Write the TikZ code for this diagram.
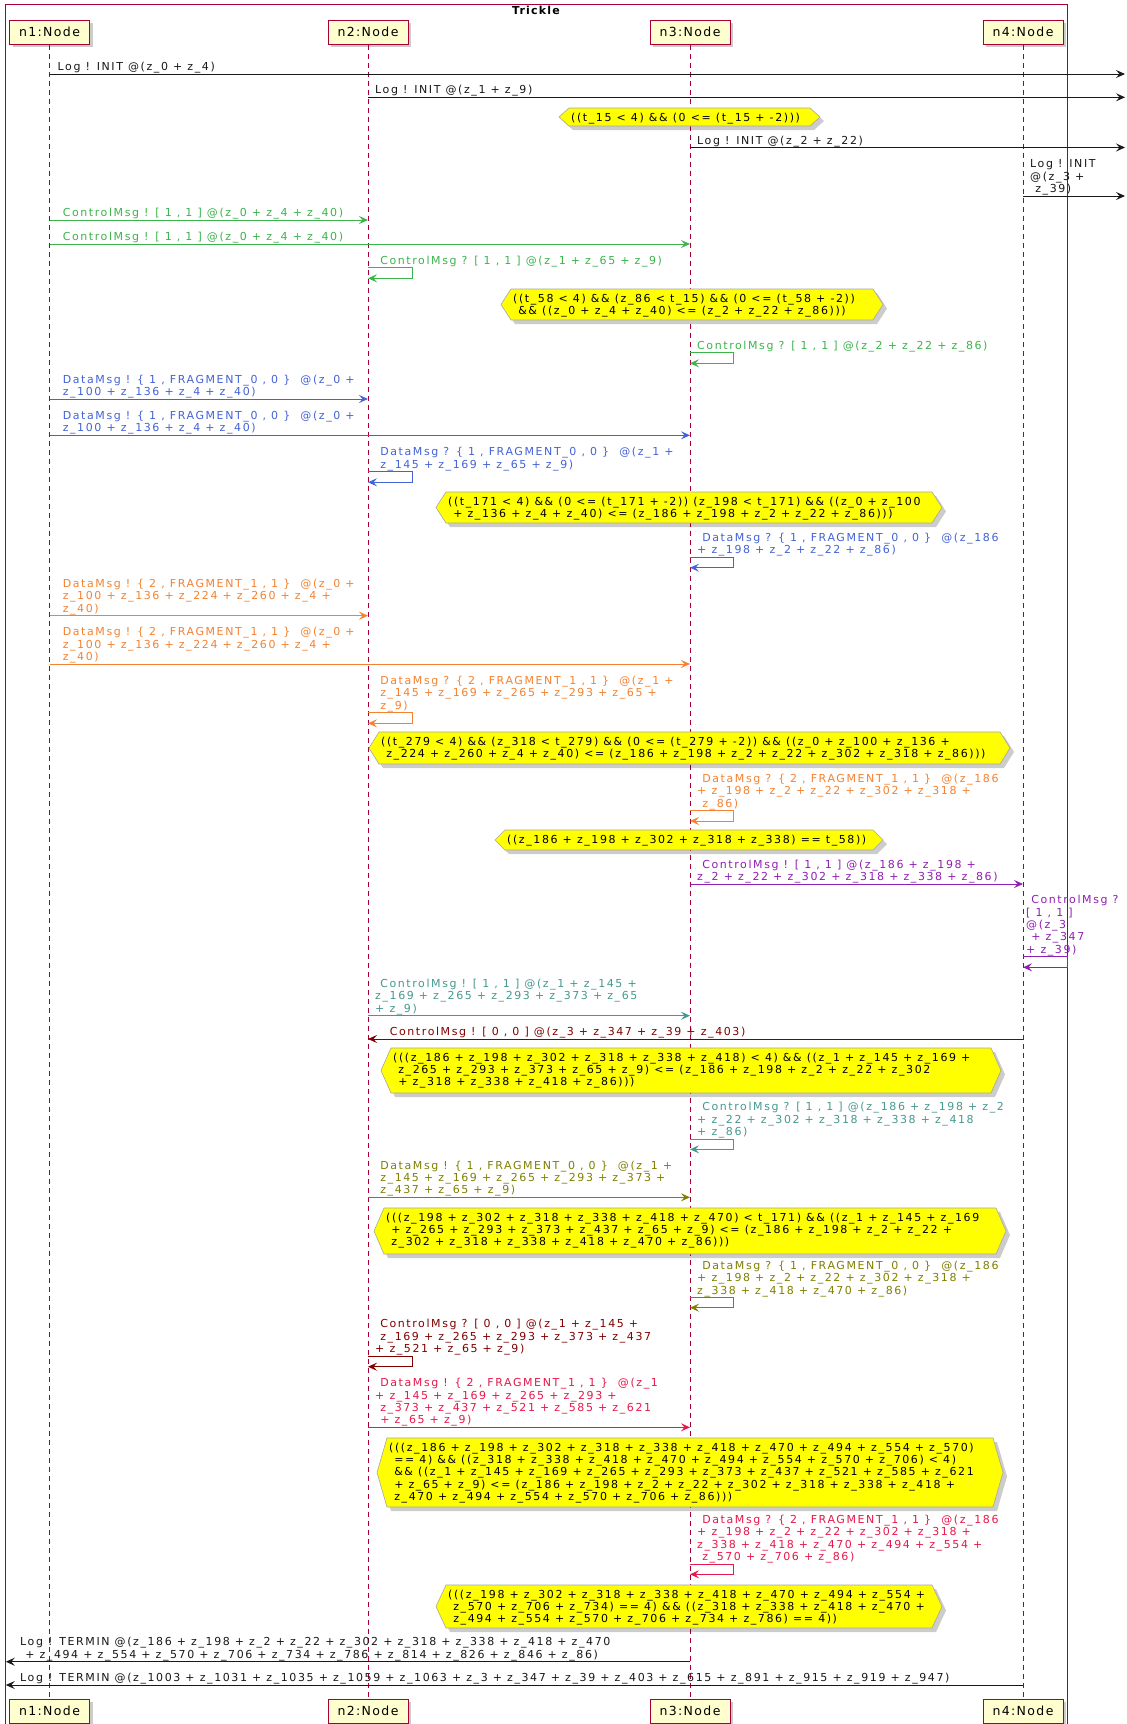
\documentclass[tikz,border=0pt]{standalone}
\usepackage{fontspec}
\newfontfamily\lfont{DejaVu Sans}[LetterSpace=14.5]
\newfontfamily\pfont{DejaVu Sans}[LetterSpace=11]
\usetikzlibrary{arrows.meta}
\definecolor{pcol}{HTML}{A80036}
\definecolor{pfill}{HTML}{FEFECE}
\definecolor{cgreen}{HTML}{3CB44B}
\definecolor{cblue}{HTML}{4363D8}
\definecolor{corange}{HTML}{F58231}
\definecolor{cpurple}{HTML}{911EB4}
\definecolor{cteal}{HTML}{469990}
\definecolor{cmaroon}{HTML}{800000}
\definecolor{colive}{HTML}{808000}
\definecolor{cred}{HTML}{E6194B}
\definecolor{clog}{HTML}{181818}
\definecolor{nyel}{HTML}{FFFF00}
\newcommand\msgfont{\lfont\fontsize{11}{12.4}\selectfont}
\newcommand\mlb[1]{\begin{tabular}[b]{@{}l@{}}#1\end{tabular}}
\newcommand\mlt[1]{\begin{tabular}[t]{@{}l@{}}#1\end{tabular}}
\tikzset{
 lbl/.style={inner sep=0pt, anchor=base west, font=\msgfont},
 arr/.style={line width=1pt, -{Stealth[length=9pt,width=8pt,inset=3.5pt]}},
 life/.style={draw=pcol, dash pattern=on 5pt off 4pt, line width=0.8pt},
 part/.style={draw=pcol, fill=pfill, line width=1pt, minimum width=80pt, minimum height=24pt, inner sep=0pt,
   font=\pfont\fontsize{12.5}{15}\selectfont,
   preaction={fill=black,opacity=0.2,transform canvas={shift={(3pt,-3pt)}}}},
 notebd/.style={draw=gray!70, line width=0.6pt, fill=nyel},
 shad/.style={fill=black, opacity=0.2},
}
\newcommand\hexnote[6]{%
 \fill[shad] ({#2+4},{(#4+#5)/2+4}) -- ({#2+14},{#4+4}) -- ({#3-6},{#4+4}) -- ({#3+4},{(#4+#5)/2+4}) -- ({#3-6},{#5+4}) -- ({#2+14},{#5+4}) -- cycle;
 \draw[notebd] (#2,{(#4+#5)/2}) -- ({#2+10},#4) -- ({#3-10},#4) -- (#3,{(#4+#5)/2}) -- ({#3-10},#5) -- ({#2+10},#5) -- cycle;
 \node[lbl,text=black] (#1) at ({#2+12},{#4+13}) {\mlt{#6}};
}
\newcommand\selfmsg[6]{%
 \coordinate (#1a) at (#2,#3);
 \coordinate (#1b) at (#2,#4);
 \draw[arr,color=#5] (#1a) -- ++(#6,0) |- (#1b);
}
\newcommand\mmsg[5]{%
 \coordinate (#1a) at (#2,#4);
 \coordinate (#1b) at (#3,#4);
 \draw[arr,color=#5] (#1a) -- (#1b);
}
\newcommand\msglabel[5]{%
 \node[lbl,text=#4] (#1) at (#2,#3) {\mlb{#5}};
}
\begin{document}
\catcode`\_=12
\begin{tikzpicture}[x=1pt,y=-1pt]
\useasboundingbox (0,0) rectangle (1127,1724);
\fill[white] (0,0) rectangle (1127,1724);
% frame
\draw[pcol,line width=1pt] (5,1730) -- (5,4.3) -- (1067.6,4.3) -- (1067.6,1730);
\node[font=\pfont\bfseries\fontsize{11}{13}\selectfont, inner sep=0pt, anchor=base] (title) at (536,14.5) {Trickle};
% participants
\node[part] (p1t) at (49.5,32) {n1:Node};
\node[part] (p2t) at (368,32) {n2:Node};
\node[part] (p3t) at (690,32) {n3:Node};
\node[part] (p4t) at (1023,32) {n4:Node};
\node[part] (p1b) at (49.5,1711) {n1:Node};
\node[part] (p2b) at (368,1711) {n2:Node};
\node[part] (p3b) at (690,1711) {n3:Node};
\node[part] (p4b) at (1023,1711) {n4:Node};
\draw[life] (p1t.south) -- (p1b.north);
\draw[life] (p2t.south) -- (p2b.north);
\draw[life] (p3t.south) -- (p3b.north);
\draw[life] (p4t.south) -- (p4b.north);

% messages
\mmsg{m1}{49.5}{1125}{74}{clog}
\msglabel{l1}{57.5}{70.5}{clog}{Log ! INIT @(z_0 + z_4)}
\mmsg{m2}{368}{1125}{97.3}{clog}
\msglabel{l2}{375}{93.8}{clog}{Log ! INIT @(z_1 + z_9)}
\hexnote{h1}{559}{820}{108}{126}{((t_15 < 4) \&\& (0 <= (t_15 + -2)))}
\mmsg{m3}{690}{1125}{147.5}{clog}
\msglabel{l3}{697}{144}{clog}{Log ! INIT @(z_2 + z_22)}
\mmsg{m4}{1023}{1125}{196}{clog}
\msglabel{l4}{1030}{192.5}{clog}{Log ! INIT\\@(z_3 +\\\ z_39)}
\mmsg{m5}{49.5}{368}{220}{cgreen}
\msglabel{l5}{57.5}{216.5}{cgreen}{\ ControlMsg ! [ 1 , 1 ] @(z_0 + z_4 + z_40)}
\mmsg{m6}{49.5}{690}{244}{cgreen}
\msglabel{l6}{57.5}{240.5}{cgreen}{\ ControlMsg ! [ 1 , 1 ] @(z_0 + z_4 + z_40)}
\selfmsg{s1}{368}{267.7}{278.3}{cgreen}{44}
\msglabel{ls1}{375}{264.2}{cgreen}{\ ControlMsg ? [ 1 , 1 ] @(z_1 + z_65 + z_9)}
\hexnote{h2}{501}{883}{289}{320}{((t_58 < 4) \&\& (z_86 < t_15) \&\& (0 <= (t_58 + -2))\\\ \&\& ((z_0 + z_4 + z_40) <= (z_2 + z_22 + z_86)))}
\selfmsg{s2}{690}{352.7}{363.3}{cgreen}{43}
\msglabel{ls2}{697}{349.2}{cgreen}{ControlMsg ? [ 1 , 1 ] @(z_2 + z_22 + z_86)}
\mmsg{m7}{49.5}{368}{399}{cblue}
\msglabel{l7}{57.5}{395.5}{cblue}{\ DataMsg ! \{ 1 , FRAGMENT_0 , 0 \} \ @(z_0 +\\\ z_100 + z_136 + z_4 + z_40)}
\mmsg{m8}{49.5}{690}{435.3}{cblue}
\msglabel{l8}{57.5}{431.8}{cblue}{\ DataMsg ! \{ 1 , FRAGMENT_0 , 0 \} \ @(z_0 +\\\ z_100 + z_136 + z_4 + z_40)}
\selfmsg{s3}{368}{471.7}{482.3}{cblue}{44}
\msglabel{ls3}{375}{468.2}{cblue}{\ DataMsg ? \{ 1 , FRAGMENT_0 , 0 \} \ @(z_1 +\\\ z_145 + z_169 + z_65 + z_9)}
\hexnote{h3}{436}{942}{492}{523}{((t_171 < 4) \&\& (0 <= (t_171 + -2)) (z_198 < t_171) \&\& ((z_0 + z_100\\\ + z_136 + z_4 + z_40) <= (z_186 + z_198 + z_2 + z_22 + z_86)))}
\selfmsg{s4}{690}{557.3}{567.7}{cblue}{43}
\msglabel{ls4}{697}{553.8}{cblue}{\ DataMsg ? \{ 1 , FRAGMENT_0 , 0 \} \ @(z_186\\+ z_198 + z_2 + z_22 + z_86)}
\mmsg{m9}{49.5}{368}{615.7}{corange}
\msglabel{l9}{57.5}{612.2}{corange}{\ DataMsg ! \{ 2 , FRAGMENT_1 , 1 \} \ @(z_0 +\\\ z_100 + z_136 + z_224 + z_260 + z_4 +\\\ z_40)}
\mmsg{m10}{49.5}{690}{664}{corange}
\msglabel{l10}{57.5}{660.5}{corange}{\ DataMsg ! \{ 2 , FRAGMENT_1 , 1 \} \ @(z_0 +\\\ z_100 + z_136 + z_224 + z_260 + z_4 +\\\ z_40)}
\selfmsg{s5}{368}{712.7}{723.3}{corange}{44}
\msglabel{ls5}{375}{709.2}{corange}{\ DataMsg ? \{ 2 , FRAGMENT_1 , 1 \} \ @(z_1 +\\\ z_145 + z_169 + z_265 + z_293 + z_65 +\\\ z_9)}
\hexnote{h4}{369}{1010}{732}{764}{((t_279 < 4) \&\& (z_318 < t_279) \&\& (0 <= (t_279 + -2)) \&\& ((z_0 + z_100 + z_136 +\\\ z_224 + z_260 + z_4 + z_40) <= (z_186 + z_198 + z_2 + z_22 + z_302 + z_318 + z_86)))}
\selfmsg{s6}{690}{810.7}{821}{corange}{43}
\msglabel{ls6}{697}{807.2}{corange}{\ DataMsg ? \{ 2 , FRAGMENT_1 , 1 \} \ @(z_186\\+ z_198 + z_2 + z_22 + z_302 + z_318 +\\\ z_86)}
\hexnote{h5}{495}{883}{830}{850}{((z_186 + z_198 + z_302 + z_318 + z_338) == t_58))}
\mmsg{m11}{690}{1023}{884}{cpurple}
\msglabel{l11}{697}{880.5}{cpurple}{\ ControlMsg ! [ 1 , 1 ] @(z_186 + z_198 +\\z_2 + z_22 + z_302 + z_318 + z_338 + z_86)}
\selfmsg{s7}{1023}{956.7}{967.3}{cpurple}{44.6}
\msglabel{ls7}{1026}{953.2}{cpurple}{\ ControlMsg ?\\{[} 1 , 1 ]\\@(z_3\\\ + z_347\\+ z_39)}
\mmsg{m12}{368}{690}{1015.7}{cteal}
\msglabel{l12}{375}{1012.2}{cteal}{\ ControlMsg ! [ 1 , 1 ] @(z_1 + z_145 +\\z_169 + z_265 + z_293 + z_373 + z_65\\+ z_9)}
\mmsg{m13}{1023}{368}{1039}{cmaroon}
\msglabel{l13}{389.6}{1035.5}{cmaroon}{ControlMsg ! [ 0 , 0 ] @(z_3 + z_347 + z_39 + z_403)}
\hexnote{h6}{381}{1001}{1048}{1093}{(((z_186 + z_198 + z_302 + z_318 + z_338 + z_418) < 4) \&\& ((z_1 + z_145 + z_169 +\\\ z_265 + z_293 + z_373 + z_65 + z_9) <= (z_186 + z_198 + z_2 + z_22 + z_302\\\ + z_318 + z_338 + z_418 + z_86)))}
\selfmsg{s8}{690}{1139}{1149.3}{cteal}{43}
\msglabel{ls8}{697}{1135.5}{cteal}{\ ControlMsg ? [ 1 , 1 ] @(z_186 + z_198 + z_2\\+ z_22 + z_302 + z_318 + z_338 + z_418\\+ z_86)}
\mmsg{m14}{368}{690}{1197.3}{colive}
\msglabel{l14}{375}{1193.8}{colive}{\ DataMsg ! \{ 1 , FRAGMENT_0 , 0 \} \ @(z_1 +\\\ z_145 + z_169 + z_265 + z_293 + z_373 +\\\ z_437 + z_65 + z_9)}
\hexnote{h7}{374}{1006}{1208}{1254}{(((z_198 + z_302 + z_318 + z_338 + z_418 + z_470) < t_171) \&\& ((z_1 + z_145 + z_169\\\ + z_265 + z_293 + z_373 + z_437 + z_65 + z_9) <= (z_186 + z_198 + z_2 + z_22 +\\\ z_302 + z_318 + z_338 + z_418 + z_470 + z_86)))}
\selfmsg{s9}{690}{1297.7}{1307.7}{colive}{43}
\msglabel{ls9}{697}{1294.2}{colive}{\ DataMsg ? \{ 1 , FRAGMENT_0 , 0 \} \ @(z_186\\+ z_198 + z_2 + z_22 + z_302 + z_318 +\\z_338 + z_418 + z_470 + z_86)}
\selfmsg{s10}{368}{1356}{1366.7}{cmaroon}{44}
\msglabel{ls10}{375}{1352.5}{cmaroon}{\ ControlMsg ? [ 0 , 0 ] @(z_1 + z_145 +\\\ z_169 + z_265 + z_293 + z_373 + z_437\\+ z_521 + z_65 + z_9)}
\mmsg{m15}{368}{690}{1427.3}{cred}
\msglabel{l15}{375}{1423.8}{cred}{\ DataMsg ! \{ 2 , FRAGMENT_1 , 1 \} \ @(z_1\\+ z_145 + z_169 + z_265 + z_293 +\\\ z_373 + z_437 + z_521 + z_585 + z_621\\\ + z_65 + z_9)}
\hexnote{h8}{377}{1003}{1438}{1507}{(((z_186 + z_198 + z_302 + z_318 + z_338 + z_418 + z_470 + z_494 + z_554 + z_570)\\\ == 4) \&\& ((z_318 + z_338 + z_418 + z_470 + z_494 + z_554 + z_570 + z_706) < 4)\\\ \&\& ((z_1 + z_145 + z_169 + z_265 + z_293 + z_373 + z_437 + z_521 + z_585 + z_621\\\ + z_65 + z_9) <= (z_186 + z_198 + z_2 + z_22 + z_302 + z_318 + z_338 + z_418 +\\\ z_470 + z_494 + z_554 + z_570 + z_706 + z_86)))}
\selfmsg{s11}{690}{1564}{1574.3}{cred}{43}
\msglabel{ls11}{697}{1560.5}{cred}{\ DataMsg ? \{ 2 , FRAGMENT_1 , 1 \} \ @(z_186\\+ z_198 + z_2 + z_22 + z_302 + z_318 +\\z_338 + z_418 + z_470 + z_494 + z_554 +\\\ z_570 + z_706 + z_86)}
\hexnote{h9}{436}{942}{1585}{1628}{(((z_198 + z_302 + z_318 + z_338 + z_418 + z_470 + z_494 + z_554 +\\\ z_570 + z_706 + z_734) == 4) \&\& ((z_318 + z_338 + z_418 + z_470 +\\\ z_494 + z_554 + z_570 + z_706 + z_734 + z_786) == 4))}
\mmsg{m16}{690}{5.8}{1661.7}{clog}
\msglabel{l16}{20}{1658.2}{clog}{Log ! TERMIN @(z_186 + z_198 + z_2 + z_22 + z_302 + z_318 + z_338 + z_418 + z_470\\\ + z_494 + z_554 + z_570 + z_706 + z_734 + z_786 + z_814 + z_826 + z_846 + z_86)}
\mmsg{m17}{1023}{5.8}{1685}{clog}
\msglabel{l17}{20}{1681.5}{clog}{Log ! TERMIN @(z_1003 + z_1031 + z_1035 + z_1059 + z_1063 + z_3 + z_347 + z_39 + z_403 + z_615 + z_891 + z_915 + z_919 + z_947)}
\end{tikzpicture}
\end{document}
